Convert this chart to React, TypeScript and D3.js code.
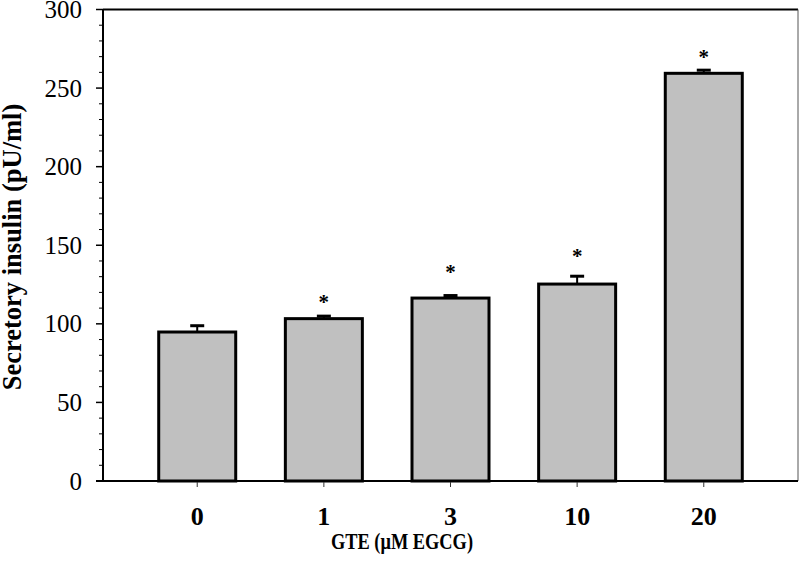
import React from "react";
import * as d3 from "d3";

const categories = ["0", "1", "3", "10", "20"];
const values = [94.8, 103.3, 116.4, 125.3, 259.4];
const errors = [4.0, 1.6, 1.6, 5.0, 2.0];
const starAt = [null, 116.4, 135.5, 145.7, 272.3];
const yTicks = [0, 50, 100, 150, 200, 250, 300];
const yTitle = "Secretory insulin (pU/ml)";
const xTitle = "GTE (\u03bcM EGCG)";

export default function App() {
  const W = 800, H = 577;
  const left = 103, right = 798, top = 9.5, bottom = 481;
  const x = d3.scaleBand<string>().domain(categories).range([left, right]).paddingInner(0.392).paddingOuter(0.44);
  const y = d3.scaleLinear().domain([0, 300]).range([bottom, top]);
  const minor = d3.range(0, 301, 10).filter((v) => v % 50 !== 0);
  const font = "'Liberation Serif', 'Times New Roman', serif";
  return (
    <svg width={W} height={H} style={{ position: "absolute", left: 0, top: 0, background: "#fff" }}>
      <line x1={left} x2={right} y1={top} y2={top} stroke="#000" strokeWidth={2} />
      <line x1={right} x2={right} y1={top} y2={bottom} stroke="#555" strokeWidth={1} />
      {categories.map((c, i) => {
        const bx = x(c)!;
        const bw = x.bandwidth();
        const cx = bx + bw / 2;
        const yt = y(values[i]);
        const ye = y(values[i] + errors[i]);
        return (
          <g key={c}>
            <line x1={cx} x2={cx} y1={yt} y2={ye} stroke="#000" strokeWidth={2} />
            <line x1={cx - 7} x2={cx + 7} y1={ye} y2={ye} stroke="#000" strokeWidth={3} />
            <rect x={bx} y={yt} width={bw} height={bottom - yt} fill="#c0c0c0" stroke="#000" strokeWidth={3} />
            {starAt[i] !== null && (
              <text x={cx} y={y(starAt[i] as number) + 11} textAnchor="middle" fontFamily={font} fontWeight="bold" fontSize={21}>*</text>
            )}
            <line x1={cx} x2={cx} y1={bottom} y2={bottom + 6} stroke="#333" strokeWidth={1} />
            <text x={cx} y={525} textAnchor="middle" fontFamily={font} fontWeight="bold" fontSize={26}>{c}</text>
          </g>
        );
      })}
      <line x1={left} x2={left} y1={top} y2={bottom} stroke="#000" strokeWidth={2} />
      <line x1={left - 7} x2={right} y1={bottom} y2={bottom} stroke="#000" strokeWidth={2} />
      {yTicks.map((t) => (
        <g key={t}>
          <line x1={left - 7} x2={left} y1={y(t)} y2={y(t)} stroke="#000" strokeWidth={1.5} />
          <text x={82} y={y(t) + 8.5} textAnchor="end" fontFamily={font} fontSize={25}>{t}</text>
        </g>
      ))}
      {minor.map((t) => (
        <line key={t} x1={left - 4} x2={left} y1={y(t)} y2={y(t)} stroke="#000" strokeWidth={1} />
      ))}
      <text transform={`translate(21,247) rotate(-90)`} textAnchor="middle" fontFamily={font} fontWeight="bold" fontSize={26.5}>{yTitle}</text>
      <text x={402} y={549} textAnchor="middle" fontFamily={font} fontWeight="bold" fontSize={24} textLength={142} lengthAdjust="spacingAndGlyphs">{xTitle}</text>
    </svg>
  );
}
